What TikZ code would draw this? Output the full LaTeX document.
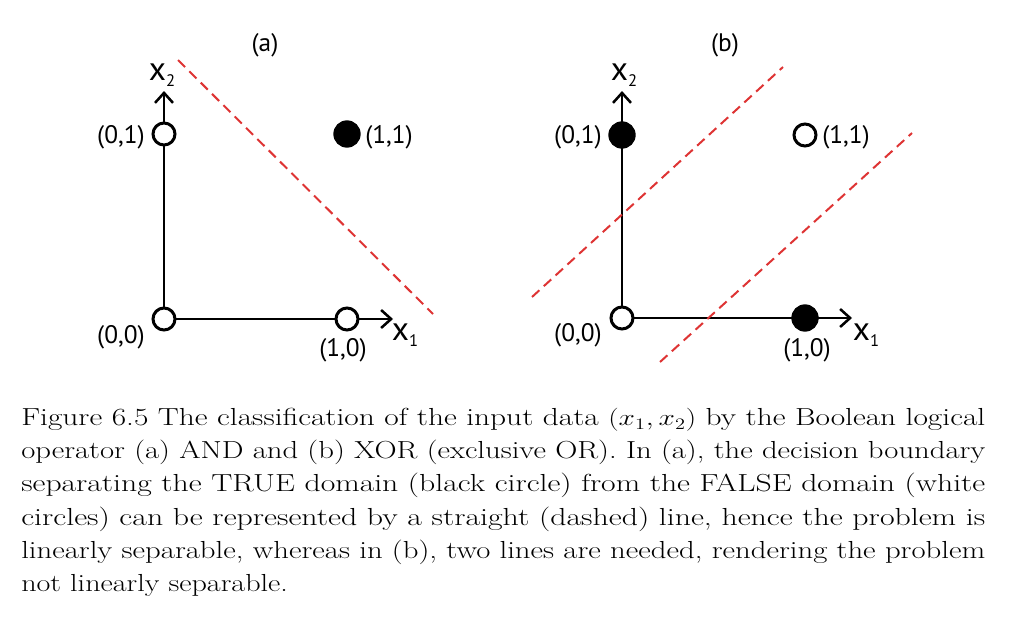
\documentclass[tikz,border=0pt]{standalone}
\usepackage{fontspec}
\newfontfamily\labfont{PT Sans}
\usetikzlibrary{arrows.meta}
\definecolor{dashred}{RGB}{222,52,52}
\begin{document}
\begin{tikzpicture}[x=0.75pt,y=-0.75pt,
  opendot/.style={circle,draw=black,fill=white,line width=2.25pt,minimum size=16.5pt,inner sep=0},
  filldot/.style={circle,fill=black,minimum size=20.5pt,inner sep=0},
  axisline/.style={line width=1.9pt,-{Straight Barb[length=7.5pt,width=13.5pt]}},
  coordlab/.style={font=\labfont\fontsize{19}{19}\selectfont,inner sep=0},
  axislab/.style={font=\labfont\fontsize{25}{25}\selectfont,inner sep=0},
  boundary/.style={draw=dashred,line width=1.5pt,dash pattern=on 7.5pt off 4.5pt},
  captiontext/.style={anchor=north west,inner sep=0,align=left,font=\fontsize{18.5}{24.9}\selectfont}
]
\useasboundingbox (0,0) rectangle (1016,628);
\newcommand{\axname}[1]{x\raisebox{-4.5pt}{\fontsize{12.5}{12.5}\selectfont #1}}
\newcommand{\capline}[2]{\resizebox{#1}{\height}{#2}}
% ---------- panel (a) ----------
\node[coordlab] (alab) at (265,45) {(a)};
\coordinate (ax2tip) at (164,91);
\coordinate (ax1tip) at (393,319);
\draw[axisline] (164,319) -- (ax2tip);
\draw[axisline] (164,319) -- (ax1tip);
\node[opendot] (a00) at (164,319) {};
\node[opendot] (a01) at (164,134) {};
\node[opendot] (a10) at (347,319) {};
\node[filldot] (a11) at (347,134) {};
\node[axislab] (ax2) at (162,75) {\axname{2}};
\node[axislab] (ax1) at (405,335) {\axname{1}};
\node[coordlab,anchor=east] (la01) at (145,137) {(0,1)};
\node[coordlab,anchor=west] (la11) at (365,137) {(1,1)};
\node[coordlab,anchor=east] (la00) at (145,337) {(0,0)};
\node[coordlab] (la10) at (343,350) {(1,0)};
\coordinate (da1) at (178,60);
\coordinate (da2) at (433,314);
\draw[boundary] (da1) -- (da2);
% ---------- panel (b) ----------
\node[coordlab] (blab) at (725,45) {(b)};
\coordinate (bx2tip) at (622,91);
\coordinate (bx1tip) at (852,318);
\draw[axisline] (622,318) -- (bx2tip);
\draw[axisline] (622,318) -- (bx1tip);
\node[opendot] (b00) at (622,318) {};
\node[filldot] (b01) at (622,135) {};
\node[filldot] (b10) at (805,318) {};
\node[opendot] (b11) at (805,135) {};
\node[axislab] (bx2) at (624,75) {\axname{2}};
\node[axislab] (bx1) at (866,335) {\axname{1}};
\node[coordlab,anchor=east] (lb01) at (602,137) {(0,1)};
\node[coordlab,anchor=west] (lb11) at (822,137) {(1,1)};
\node[coordlab,anchor=east] (lb00) at (602,335) {(0,0)};
\node[coordlab] (lb10) at (807,350) {(1,0)};
\coordinate (db1) at (532,297);
\coordinate (db2) at (783,67);
\draw[boundary] (db1) -- (db2);
\coordinate (db3) at (660,362);
\coordinate (db4) at (912,133);
\draw[boundary] (db3) -- (db4);
% ---------- caption ----------
\node[captiontext] (cap) at (21,408) {%
\capline{723pt}{Figure 6.5 The classification of the input data $(x_1, x_2)$ by the Boolean logical}\\
\capline{723pt}{operator (a) AND and (b) XOR (exclusive OR). In (a), the decision boundary}\\
\capline{723pt}{separating the TRUE domain (black circle) from the FALSE domain (white}\\
\capline{723pt}{circles) can be represented by a straight (dashed) line, hence the problem is}\\
\capline{723pt}{linearly separable, whereas in (b), two lines are needed, rendering the problem}\\
\capline{200pt}{not linearly separable.}};
\end{tikzpicture}
\end{document}
